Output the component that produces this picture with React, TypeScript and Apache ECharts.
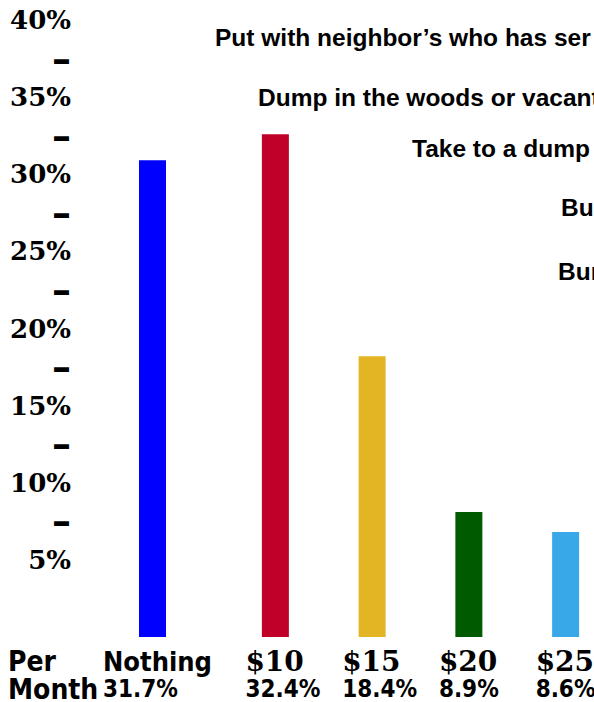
import React, { useEffect, useRef } from 'react';
import * as echarts from 'echarts';

const categories = ['Nothing', '$10', '$15', '$20', '$25'];
const barValues = [30.9, 32.6, 18.2, 8.1, 6.8];
const shareLabels = ['31.7%', '32.4%', '18.4%', '8.9%', '8.6%'];
const barColors = ['#0000FF', '#C00028', '#E3B423', '#005B00', '#38A8E8'];
const rowLabel = ['Per', 'Month'];
const disposalOptions = [
  'Put with neighbor’s who has ser',
  'Dump in the woods or vacant',
  'Take to a dump',
  'Bur',
  'Bur',
];
const yMin = 0;
const yMax = 40;
const yStep = 2.5;

const SANS = '"DejaVu Sans Condensed", "Liberation Sans Narrow", sans-serif';
const SERIF = '"DejaVu Serif", "Liberation Serif", serif';
const LEGEND_FONT = '"Liberation Sans", Arial, sans-serif';

export default function App() {
  const ref = useRef<HTMLDivElement>(null);

  useEffect(() => {
    if (!ref.current) return;
    const chart = echarts.init(ref.current, undefined, { renderer: 'svg' });

    const rich = {
      n: { fontFamily: SANS, fontWeight: 'bold', fontSize: 27, lineHeight: 28, color: '#000', align: 'left' },
      d: { fontFamily: SERIF, fontWeight: 'bold', fontSize: 28, lineHeight: 28, color: '#000', align: 'left' },
      p: { fontFamily: SANS, fontWeight: 'bold', fontSize: 24, lineHeight: 28, color: '#000', align: 'left' },
    };
    const withWidth = (w: number) => ({
      n: { ...rich.n, width: w },
      d: { ...rich.d, width: w },
      p: { ...rich.p, width: w },
    });

    const labelFor = (cat: string) => {
      const i = categories.indexOf(cat);
      const style = cat.startsWith('$') ? 'd' : 'n';
      return `{${style}|${cat}}\n{p|${shareLabels[i]}}`;
    };

    const yFmt = (v: number) => {
      if (v <= yStep) return '';
      if (v % 5 === 0) return `${v}%`;
      return '{m|–}';
    };

    const legendY = [37, 97, 148, 207, 271];
    const legendX = [215, 258, 412, 561, 558];

    const hiddenAxis = {
      axisLine: { show: false },
      axisTick: { show: false },
      splitLine: { show: false },
    };

    chart.setOption({
      animation: false,
      backgroundColor: '#fff',
      grid: [
        { left: 104, width: 97, top: 20, bottom: 65, containLabel: false, outerBoundsMode: 'none' },
        { left: 227, width: 387, top: 20, bottom: 65, containLabel: false, outerBoundsMode: 'none' },
      ],
      xAxis: [
        {
          type: 'category',
          gridIndex: 0,
          data: categories.slice(0, 1),
          ...hiddenAxis,
          axisLabel: { margin: 10, align: 'center', formatter: labelFor, rich: withWidth(99), interval: 0 },
        },
        {
          type: 'category',
          gridIndex: 1,
          data: categories.slice(1),
          ...hiddenAxis,
          axisLabel: { margin: 10, align: 'center', formatter: labelFor, rich: withWidth(60), interval: 0 },
        },
      ],
      yAxis: [
        {
          type: 'value',
          gridIndex: 0,
          min: yMin,
          max: yMax,
          interval: yStep,
          ...hiddenAxis,
          axisLabel: {
            margin: 33,
            formatter: yFmt,
            fontFamily: SERIF,
            fontWeight: 'bold',
            fontSize: 26,
            color: '#000',
            rich: {
              m: { fontFamily: '"DejaVu Sans", sans-serif', fontWeight: 'bold', fontSize: 38, color: '#000' },
            },
          },
        },
        {
          type: 'value',
          gridIndex: 1,
          min: yMin,
          max: yMax,
          interval: yStep,
          ...hiddenAxis,
          axisLabel: { show: false },
        },
      ],
      series: [
        {
          type: 'bar',
          xAxisIndex: 0,
          yAxisIndex: 0,
          barWidth: 27,
          data: barValues.slice(0, 1),
          itemStyle: { color: (p: any) => barColors[p.dataIndex] },
        },
        {
          type: 'bar',
          xAxisIndex: 1,
          yAxisIndex: 1,
          barWidth: 27,
          data: barValues.slice(1),
          itemStyle: { color: (p: any) => barColors[p.dataIndex + 1] },
        },
      ],
      graphic: [
        ...disposalOptions.map((t, i) => ({
          type: 'text',
          x: legendX[i],
          y: legendY[i],
          style: {
            text: t,
            fontFamily: LEGEND_FONT,
            fontWeight: 'bold',
            fontSize: 24.5,
            fill: '#000',
            verticalAlign: 'middle',
          },
        })),
        {
          type: 'text',
          x: 8,
          y: 647,
          style: {
            text: rowLabel.join('\n'),
            fontFamily: SANS,
            fontWeight: 'bold',
            fontSize: 28,
            lineHeight: 28,
            fill: '#000',
            verticalAlign: 'top',
          },
        },
      ],
    });

    return () => chart.dispose();
  }, []);

  return (
    <div
      ref={ref}
      style={{ position: 'absolute', left: 0, top: 0, width: 594, height: 702, overflow: 'hidden', background: '#fff' }}
    />
  );
}
